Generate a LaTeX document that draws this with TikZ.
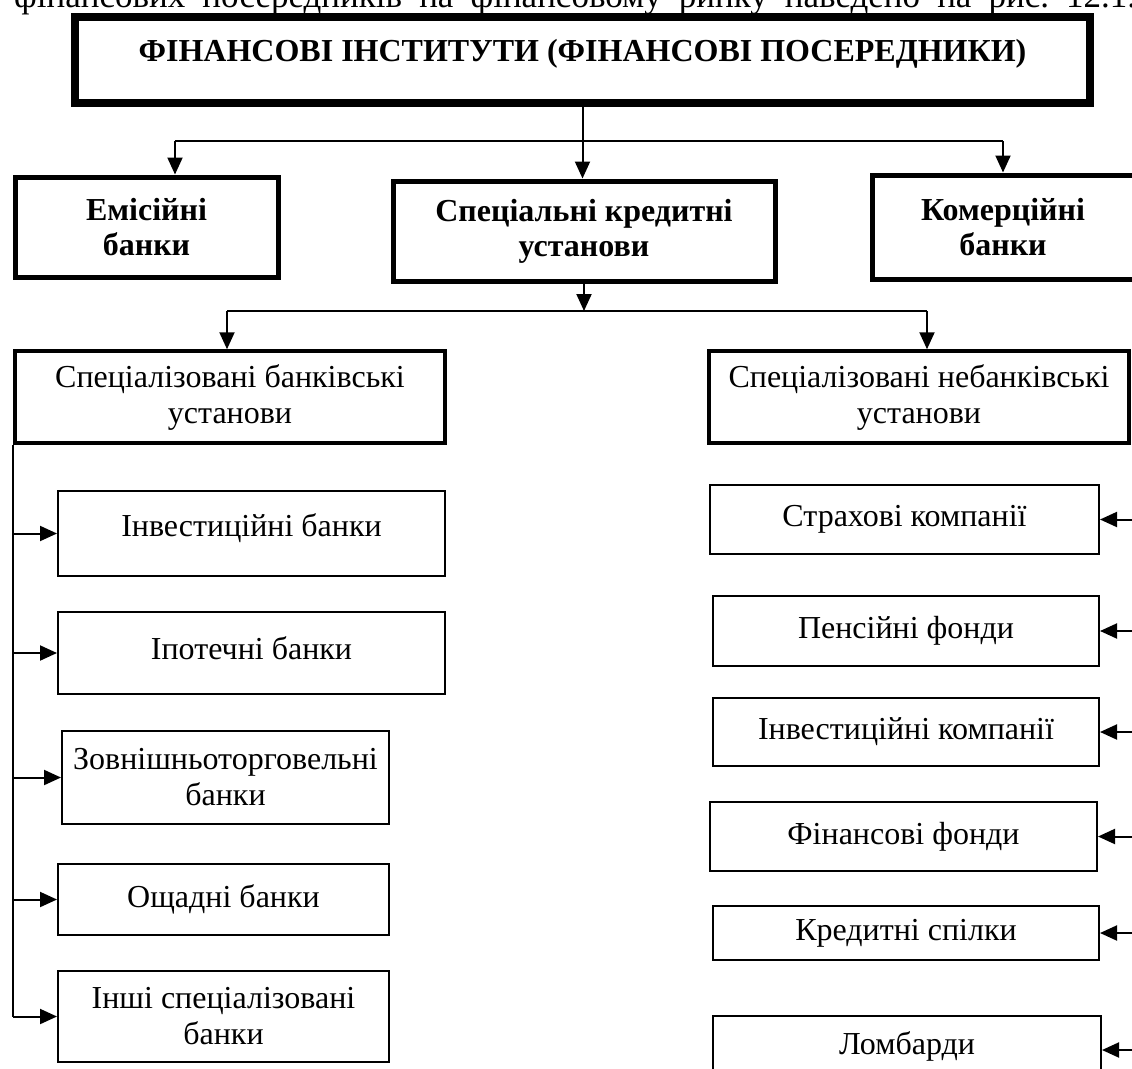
\documentclass[tikz,border=0pt]{standalone}
\usepackage{fontspec}
\setmainfont{Liberation Serif}
\usetikzlibrary{arrows.meta}
% raise a text without changing the size of its box
\newcommand\upby[2]{\raisebox{#1}[\height][\depth]{#2}}
\begin{document}
\begin{tikzpicture}[x=1pt,y=-1pt,
  every node/.style={font=\fontsize{32}{36}\selectfont, align=center, inner sep=0pt},
  headbox/.style={draw, line width=8pt, font=\fontsize{32}{36}\selectfont\bfseries},
  mainbox/.style={draw, line width=5pt, font=\fontsize{32}{35}\selectfont\bfseries},
  groupbox/.style={draw, line width=3.5pt},
  itembox/.style={draw, line width=2pt},
  line/.style={line width=2pt},
  conn/.style={line width=2pt, -{Triangle[length=17pt,width=15pt]}}
]
\useasboundingbox (0,0) rectangle (1132,1068);
\clip (0,0) rectangle (1132,1068);

% justified line of running text above the chart
\node[anchor=base west, font=\fontsize{35}{40}\selectfont] (intro) at (14,8)
  {\frenchspacing\makebox[1122pt][s]{фінансових посередників на фінансовому ринку наведено на рис.\ 12.1.}};

% head of the chart
\node[headbox, minimum width=1015pt, minimum height=86pt] (top) at (582.5,60)
  {\upby{6pt}{ФІНАНСОВІ ІНСТИТУТИ (ФІНАНСОВІ ПОСЕРЕДНИКИ)}};

% first level
\node[mainbox, minimum width=263pt, minimum height=100pt] (emis) at (146.5,227)
  {Емісійні\\банки};
\node[mainbox, minimum width=382pt, minimum height=100pt] (spec) at (584,231)
  {Спеціальні кредитні\\установи};
\node[mainbox, minimum width=262pt, minimum height=104pt] (kom) at (1003,227)
  {Комерційні\\банки};

% second level
\node[groupbox, minimum width=430pt, minimum height=92pt] (sbank) at (230,397)
  {Спеціалізовані банківські\\установи};
\node[groupbox, minimum width=420pt, minimum height=92pt] (nonbank) at (919,397)
  {Спеціалізовані небанківські\\установи};

% specialised banks
\node[itembox, minimum width=387pt, minimum height=85pt] (invb) at (251.5,533.5)
  {\upby{5pt}{Інвестиційні банки}};
\node[itembox, minimum width=387pt, minimum height=82pt] (ipot) at (251.5,653)
  {\upby{5pt}{Іпотечні банки}};
\node[itembox, minimum width=327pt, minimum height=93pt] (zovn) at (225.5,777.5)
  {Зовнішньоторговельні\\банки};
\node[itembox, minimum width=331pt, minimum height=71pt] (oshch) at (223.5,899.5)
  {Ощадні банки};
\node[itembox, minimum width=331pt, minimum height=91pt] (inshi) at (223.5,1016.5)
  {Інші спеціалізовані\\банки};

% specialised non-bank institutions
\node[itembox, minimum width=389pt, minimum height=69pt] (strah) at (904.5,519.5)
  {Страхові компанії};
\node[itembox, minimum width=386pt, minimum height=70pt] (pens) at (906,631)
  {Пенсійні фонди};
\node[itembox, minimum width=386pt, minimum height=68pt] (invk) at (906,732)
  {Інвестиційні компанії};
\node[itembox, minimum width=387pt, minimum height=69pt] (finf) at (903.5,836.5)
  {Фінансові фонди};
\node[itembox, minimum width=386pt, minimum height=54pt] (kred) at (906,933)
  {Кредитні спілки};
\node[itembox, minimum width=388pt, minimum height=68pt] (lomb) at (907,1050)
  {\upby{4pt}{Ломбарди}};

% connectors: head to first level
\coordinate (l1) at (175,141);
\draw[line] (l1) -- (kom.north |- l1);
\draw[conn] (top.south) -- (top.south |- spec.north);
\draw[conn] (l1) -- (l1 |- emis.north);
\draw[conn] (kom.north |- l1) -- (kom.north);

% connectors: special institutions to second level
\coordinate (l2) at (227,311);
\coordinate (r2) at (927,311);
\draw[conn] (spec.south) -- (spec.south |- l2);
\draw[line] (l2) -- (r2);
\draw[conn] (l2) -- (l2 |- sbank.north);
\draw[conn] (r2) -- (r2 |- nonbank.north);

% left trunk
\coordinate (lt) at (13,445);
\draw[line] (lt) -- (lt |- inshi.west);
\foreach \b in {invb,ipot,zovn,oshch,inshi}
  \draw[conn] (lt |- \b.west) -- (\b.west);

% right trunk
\coordinate (rt) at (1137,445);
\draw[line] (rt) -- (rt |- lomb.east);
\foreach \b in {strah,pens,invk,finf,kred,lomb}
  \draw[conn] (rt |- \b.east) -- (\b.east);
\end{tikzpicture}
\end{document}
